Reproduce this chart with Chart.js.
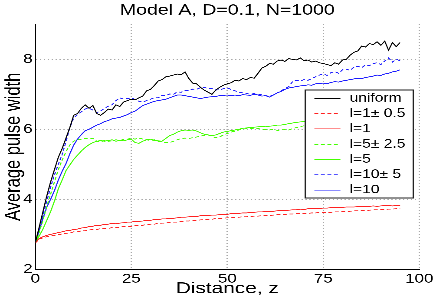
<!DOCTYPE html>
<html>
<head>
<meta charset="utf-8">
<script src="https://cdn.jsdelivr.net/npm/chart.js"></script>
<style>
html,body{margin:0;padding:0;overflow:hidden;background:#fff;}
#wrap{width:335px;height:300px;transform:scaleX(1.30149);transform-origin:0 0;}
canvas{display:block;}
</style>
</head>
<body>
<div id="wrap"><canvas id="c" width="335" height="300"></canvas></div>
<script>
const chartTitle = 'Model A, D=0.1, N=1000';
const xAxisTitle = 'Distance, z';
const yAxisTitle = 'Average pulse width';
const xTickValues = [0, 25, 50, 75, 100];
const yTickValues = [2, 4, 6, 8];
const seriesLabels = ['uniform', 'l=1\u00b1 0.5', 'l=1', 'l=5\u00b1 2.5', 'l=5', 'l=10\u00b1 5', 'l=10'];

const zValues = [0,1,2,3,4,5,6,7,8,9,10,11,12,13,14,15,16,17,18,19,20,21,22,23,24,25,26,27,28,29,30,31,32,33,34,35,36,37,38,39,40,41,42,43,44,45,46,47,48,49,50,51,52,53,54,55,56,57,58,59,60,61,62,63,64,65,66,67,68,69,70,71,72,73,74,75,76,77,78,79,80,81,82,83,84,85,86,87,88,89,90,91,92,93,94,95];

const uniformValues = [2.75,3.2,3.65,4.1,4.5,4.85,5.2,5.45,5.75,6.05,
6.4,6.45,6.6,6.7,6.6,6.68,6.45,6.4,6.48,6.58,
6.55,6.7,6.65,6.78,6.82,6.86,6.84,6.9,6.95,7.1,
7.14,7.25,7.38,7.42,7.5,7.52,7.55,7.58,7.56,7.64,
7.45,7.32,7.3,7.2,7.12,7.06,7.0,7.12,7.2,7.26,
7.3,7.33,7.4,7.38,7.45,7.42,7.48,7.46,7.6,7.75,
7.8,7.88,7.86,7.95,7.98,7.94,8.02,8.0,7.98,8.04,
7.96,7.98,7.92,7.95,7.9,7.88,7.85,7.82,7.9,7.86,
7.98,8.0,8.12,8.2,8.24,8.38,8.35,8.45,8.42,8.5,
8.4,8.52,8.26,8.48,8.36,8.48];

const l1VarValues = [2.75,2.86,2.9,2.93,2.95,2.97,2.99,3.01,3.03,3.04,
3.07,3.07,3.1,3.1,3.12,3.14,3.14,3.16,3.17,3.17,
3.19,3.2,3.2,3.22,3.23,3.23,3.25,3.26,3.26,3.28,
3.29,3.29,3.31,3.32,3.32,3.34,3.35,3.35,3.37,3.38,
3.38,3.4,3.4,3.41,3.42,3.43,3.43,3.45,3.45,3.46,
3.47,3.47,3.48,3.49,3.5,3.5,3.51,3.52,3.52,3.53,
3.54,3.54,3.55,3.56,3.56,3.57,3.58,3.58,3.59,3.59,
3.6,3.6,3.61,3.61,3.62,3.62,3.63,3.63,3.64,3.64,
3.65,3.65,3.66,3.67,3.67,3.68,3.68,3.69,3.7,3.7,
3.71,3.71,3.72,3.72,3.73,3.74];

const l1Values = [2.75,2.88,2.93,2.97,3.0,3.02,3.05,3.07,3.1,3.11,
3.14,3.15,3.18,3.19,3.22,3.23,3.26,3.26,3.28,3.29,
3.31,3.3,3.32,3.33,3.35,3.35,3.37,3.37,3.38,3.4,
3.4,3.42,3.42,3.44,3.44,3.46,3.46,3.47,3.49,3.49,
3.5,3.51,3.51,3.53,3.53,3.54,3.55,3.55,3.56,3.57,
3.57,3.59,3.59,3.6,3.61,3.61,3.62,3.63,3.64,3.64,
3.65,3.66,3.66,3.67,3.68,3.68,3.69,3.7,3.7,3.72,
3.71,3.73,3.73,3.74,3.74,3.75,3.75,3.76,3.76,3.77,
3.77,3.78,3.78,3.78,3.79,3.8,3.79,3.8,3.81,3.8,
3.81,3.82,3.82,3.81,3.82,3.82];

const l5VarValues = [2.75,3.05,3.4,3.8,4.15,4.5,4.85,5.12,5.36,5.55,
5.66,5.7,5.72,5.74,5.72,5.74,5.66,5.64,5.68,5.66,
5.67,5.7,5.68,5.71,5.72,5.74,5.72,5.75,5.72,5.7,
5.68,5.7,5.66,5.64,5.62,5.62,5.66,5.7,5.74,5.75,
5.74,5.76,5.78,5.8,5.83,5.84,5.8,5.76,5.78,5.84,
5.88,5.92,5.95,5.98,6.0,6.02,6.03,6.01,6.02,6.0,
5.99,5.98,6.0,5.97,5.98,5.99,5.98,6.02,6.05,6.08,
6.1,6.12,6.13,6.15,6.16,6.17,6.19,6.2,6.21,6.22,
6.24,6.25,6.26,6.27,6.28,6.3,6.31,6.32,6.33,6.34,
6.35,6.36,6.37,6.38,6.39,6.4];

const l5Values = [2.75,2.95,3.15,3.4,3.65,3.95,4.3,4.55,4.82,4.98,
5.14,5.26,5.38,5.48,5.56,5.62,5.66,5.68,5.66,5.68,
5.7,5.66,5.68,5.67,5.7,5.72,5.62,5.6,5.66,5.7,
5.72,5.68,5.67,5.66,5.74,5.82,5.86,5.92,5.96,5.98,
5.97,5.98,5.95,5.9,5.86,5.84,5.82,5.84,5.88,5.92,
5.94,5.96,5.98,6.0,6.03,6.04,6.05,6.06,6.07,6.08,
6.07,6.09,6.1,6.12,6.12,6.14,6.16,6.18,6.2,6.21,
6.22,6.23,6.24,6.25,6.26,6.27,6.28,6.29,6.3,6.3,
6.31,6.32,6.33,6.34,6.34,6.35,6.36,6.37,6.38,6.38,
6.39,6.4,6.4,6.41,6.42,6.42];

const l10VarValues = [2.75,3.15,3.55,3.95,4.35,4.7,5.0,5.28,5.65,6.05,
6.32,6.42,6.5,6.58,6.6,6.55,6.48,6.52,6.6,6.66,
6.7,6.82,6.9,6.86,6.88,6.9,6.85,6.8,6.78,6.82,
6.86,6.9,6.9,6.97,6.96,7.01,7.0,7.07,7.06,7.11,
7.1,7.15,7.14,7.19,7.2,7.16,7.17,7.12,7.13,7.16,
7.18,7.14,7.1,7.06,7.04,7.02,7.0,7.02,6.98,7.0,
6.96,6.94,6.98,7.04,7.1,7.16,7.22,7.36,7.4,7.38,
7.42,7.4,7.45,7.5,7.55,7.58,7.54,7.62,7.65,7.6,
7.7,7.72,7.68,7.78,7.8,7.76,7.84,7.82,7.88,7.9,
7.85,7.95,8.04,7.92,8.0,7.96];

const l10Values = [2.75,3.1,3.45,3.78,4.0,4.25,4.55,4.8,5.02,5.3,
5.55,5.72,5.85,5.96,6.0,6.06,6.12,6.16,6.22,6.25,
6.3,6.32,6.34,6.38,6.42,6.48,6.52,6.6,6.68,6.72,
6.76,6.8,6.82,6.84,6.86,6.9,6.94,6.98,6.98,6.96,
6.94,6.92,6.9,6.88,6.9,6.92,6.93,6.94,6.96,6.97,
6.98,6.96,6.98,6.96,6.99,6.98,6.97,7.0,6.98,6.95,
6.96,6.92,6.98,7.04,7.08,7.14,7.18,7.2,7.22,7.24,
7.25,7.27,7.26,7.3,7.31,7.32,7.3,7.34,7.36,7.35,
7.38,7.4,7.42,7.44,7.46,7.45,7.48,7.5,7.52,7.55,
7.54,7.58,7.6,7.64,7.66,7.7];

const seriesValues = [uniformValues, l1VarValues, l1Values, l5VarValues, l5Values, l10VarValues, l10Values];
const seriesColors = ['#000000', '#ff2020', '#ff2020', '#44ff00', '#44ff00', '#1a1aff', '#1a1aff'];
const seriesDashes = [[], [3, 2], [], [3, 2], [], [3, 2], []];

const FONT = "'Liberation Sans', Arial, Helvetica, sans-serif";

const datasets = seriesLabels.map((label, i) => ({
  label: label,
  data: zValues.map((z, j) => ({ x: z, y: seriesValues[i][j] })),
  borderColor: seriesColors[i],
  backgroundColor: seriesColors[i],
  borderWidth: 0.85,
  borderDash: seriesDashes[i],
  pointRadius: 0,
  fill: false,
  tension: 0
}));

const boxLegend = {
  id: 'boxLegend',
  afterDatasetsDraw(chart) {
    const ctx = chart.ctx;
    const area = chart.chartArea;
    const w = 83, h = 108;
    const x0 = area.right - 4.6 - w;
    const y0 = area.top + 65.7;
    ctx.save();
    ctx.fillStyle = '#ffffff';
    ctx.fillRect(x0, y0, w, h);
    ctx.strokeStyle = '#222222';
    ctx.lineWidth = 1;
    ctx.setLineDash([]);
    ctx.strokeRect(x0, y0, w, h);
    ctx.font = '12px ' + FONT;
    ctx.textBaseline = 'middle';
    ctx.textAlign = 'left';
    chart.data.datasets.forEach((ds, i) => {
      const y = y0 + 8.3 + i * 15.3;
      ctx.strokeStyle = ds.borderColor;
      ctx.lineWidth = 0.85;
      ctx.setLineDash(ds.borderDash || []);
      ctx.beginPath();
      ctx.moveTo(x0 + 7, y);
      ctx.lineTo(x0 + 27, y);
      ctx.stroke();
      ctx.setLineDash([]);
      ctx.fillStyle = '#000000';
      ctx.fillText(ds.label, x0 + 34, y);
    });
    ctx.restore();
  }
};

new Chart(document.getElementById('c'), {
  type: 'line',
  data: { datasets: datasets },
  plugins: [boxLegend],
  options: {
    responsive: false,
    animation: false,
    devicePixelRatio: 3,
    layout: { padding: { left: 0, right: 12.3, top: 0, bottom: 0 } },
    plugins: {
      legend: { display: false },
      tooltip: { enabled: false },
      title: {
        display: true,
        text: chartTitle,
        fullSize: false,
        color: '#000',
        font: { family: FONT, size: 15, weight: 'normal' },
        padding: { top: 1.5, bottom: 4.8 }
      }
    },
    scales: {
      x: {
        type: 'linear',
        min: 0,
        max: 100,
        afterBuildTicks: (axis) => { axis.ticks = xTickValues.map(v => ({ value: v })); },
        afterFit: (axis) => { axis.height = 30.7; },
        ticks: { color: '#000', font: { family: FONT, size: 13 }, padding: 2, maxRotation: 0, autoSkip: false },
        grid: { color: '#a8a8a8', lineWidth: 1, drawTicks: false },
        border: { display: true, color: '#000', width: 1, dash: [1, 2] },
        title: { display: true, text: xAxisTitle, color: '#000', font: { family: FONT, size: 16 }, padding: { top: 0, bottom: 1.4 } }
      },
      y: {
        type: 'linear',
        min: 2,
        max: 9,
        afterBuildTicks: (axis) => { axis.ticks = yTickValues.map(v => ({ value: v })); },
        afterFit: (axis) => { axis.width = 27.1; },
        ticks: { color: '#000', font: { family: FONT, size: 13 }, padding: 2 },
        grid: { color: '#a8a8a8', lineWidth: 1, drawTicks: false },
        border: { display: true, color: '#000', width: 1, dash: [1, 2] },
        title: { display: true, text: yAxisTitle, color: '#000', font: { family: FONT, size: 16.5 }, padding: { top: 1, bottom: 0 } }
      }
    }
  }
});
</script>
</body>
</html>
